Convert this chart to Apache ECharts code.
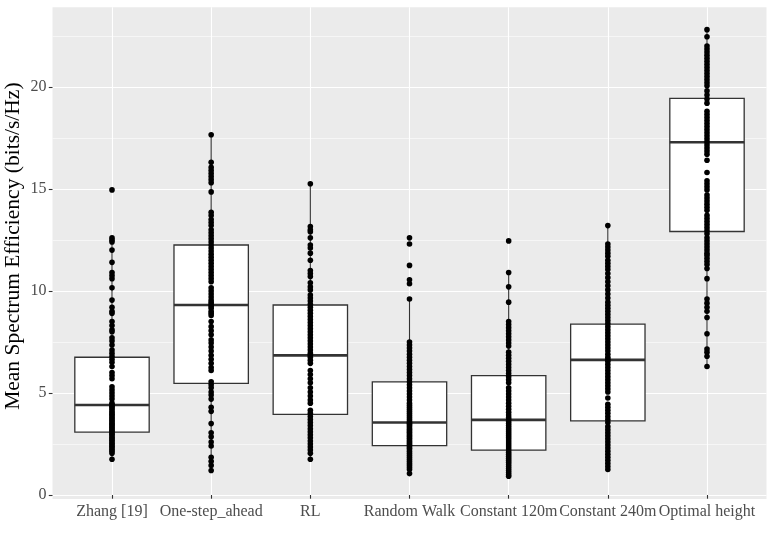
<!DOCTYPE html>
<html>
<head>
<meta charset="utf-8">
<script src="https://cdn.jsdelivr.net/npm/echarts@6/dist/echarts.min.js"></script>
<style>
html,body{margin:0;padding:0;background:#fff;}
#chart{width:774px;height:545px;}
</style>
</head>
<body>
<div id="chart"></div>
<script>
// ---- data ----
var categories = ['Zhang [19]', 'One-step_ahead', 'RL', 'Random Walk', 'Constant 120m', 'Constant 240m', 'Optimal height'];

// box statistics per category
var whiskerLow  = [1.75, 1.2, 1.75, 1.05, 0.92, 1.25, 6.3];
var quartile1   = [3.08, 5.47, 3.95, 2.42, 2.2, 3.63, 12.91];
var medians     = [4.41, 9.31, 6.84, 3.55, 3.68, 6.62, 17.28];
var quartile3   = [6.75, 12.25, 9.31, 5.54, 5.85, 8.37, 19.43];
var whiskerHigh = [12.4, 17.65, 15.25, 9.6, 10.9, 13.2, 22.8];

// individual observations per category
var zhangPts = [14.95, 12.6, 12.5, 12.4, 12.0, 11.4, 10.9, 10.75, 10.6, 10.15, 9.55, 9.2, 9.0, 8.9, 8.5, 8.3, 8.1, 8.0, 7.7, 7.55, 7.35, 7.1, 6.95, 6.8, 6.65, 6.5, 6.3, 6.0, 5.85, 5.7, 5.3, 5.15, 5.0, 4.85, 4.7, 4.5, 4.42, 4.35, 4.28, 4.2, 4.1, 4.02, 3.95, 3.88, 3.8, 3.72, 3.65, 3.58, 3.5, 3.44, 3.38, 3.3, 3.24, 3.16, 3.1, 3.04, 2.98, 2.9, 2.82, 2.75, 2.68, 2.6, 2.52, 2.45, 2.38, 2.3, 2.22, 2.15, 2.05, 1.75];
var oneStepPts = [17.65, 16.3, 16.05, 15.9, 15.75, 15.6, 15.45, 15.3, 14.85, 13.85, 13.7, 13.5, 13.35, 13.2, 13.0, 12.85, 12.7, 12.55, 12.4, 12.25, 12.1, 11.95, 11.8, 11.65, 11.5, 11.35, 11.2, 11.05, 10.9, 10.75, 10.6, 10.45, 10.15, 10.0, 9.85, 9.7, 9.55, 9.45, 9.35, 9.25, 9.15, 9.0, 8.9, 8.8, 8.5, 8.25, 8.05, 7.85, 7.6, 7.45, 7.25, 7.05, 6.85, 6.65, 6.45, 6.25, 6.1, 5.55, 5.4, 5.25, 5.05, 4.9, 4.7, 4.3, 4.1, 3.5, 3.05, 2.85, 2.6, 2.4, 1.85, 1.65, 1.45, 1.2];
var rlPts = [15.25, 13.15, 13.0, 12.9, 12.6, 12.25, 12.1, 11.85, 11.5, 11.0, 10.85, 10.7, 10.4, 10.2, 10.05, 9.8, 9.65, 9.5, 9.35, 9.2, 9.05, 8.9, 8.75, 8.6, 8.45, 8.3, 8.15, 8.0, 7.85, 7.7, 7.55, 7.4, 7.25, 7.1, 6.95, 6.85, 6.75, 6.6, 6.45, 6.1, 5.9, 5.7, 5.5, 5.25, 5.05, 4.85, 4.65, 4.5, 4.15, 4.0, 3.85, 3.7, 3.55, 3.4, 3.25, 3.1, 2.95, 2.8, 2.65, 2.5, 2.35, 2.2, 2.05, 1.75];
var randomWalkPts = [12.6, 12.3, 11.25, 10.55, 10.35, 9.6, 7.5, 7.35, 7.2, 7.05, 6.9, 6.75, 6.6, 6.45, 6.3, 6.15, 6.0, 5.85, 5.7, 5.55, 5.4, 5.25, 5.1, 4.95, 4.8, 4.65, 4.5, 4.4, 4.3, 4.2, 4.1, 4.0, 3.9, 3.8, 3.7, 3.6, 3.52, 3.45, 3.38, 3.3, 3.22, 3.15, 3.08, 3.0, 2.92, 2.85, 2.78, 2.7, 2.62, 2.55, 2.48, 2.4, 2.32, 2.25, 2.15, 2.05, 1.95, 1.85, 1.75, 1.65, 1.55, 1.45, 1.35, 1.25, 1.05];
var const120Pts = [12.45, 10.9, 10.2, 9.45, 8.5, 8.35, 8.2, 8.05, 7.9, 7.75, 7.6, 7.45, 7.3, 7.0, 6.85, 6.7, 6.55, 6.4, 6.25, 6.1, 5.95, 5.8, 5.65, 5.5, 5.25, 5.1, 4.95, 4.8, 4.65, 4.5, 4.35, 4.2, 4.05, 3.92, 3.8, 3.7, 3.6, 3.5, 3.4, 3.3, 3.2, 3.1, 3.0, 2.9, 2.8, 2.7, 2.6, 2.5, 2.4, 2.3, 2.2, 2.1, 2.0, 1.9, 1.8, 1.7, 1.6, 1.5, 1.4, 1.3, 1.2, 1.1, 1.0, 0.92];
var const240Pts = [13.2, 12.3, 12.15, 12.0, 11.85, 11.7, 11.5, 11.35, 11.2, 11.05, 10.85, 10.65, 10.45, 10.25, 10.05, 9.85, 9.65, 9.45, 9.3, 9.15, 9.0, 8.85, 8.7, 8.55, 8.4, 8.25, 8.1, 7.95, 7.8, 7.65, 7.5, 7.35, 7.2, 7.05, 6.9, 6.75, 6.65, 6.55, 6.4, 6.25, 6.1, 5.95, 5.8, 5.65, 5.5, 5.35, 5.2, 5.05, 4.75, 4.45, 4.3, 4.15, 4.0, 3.85, 3.7, 3.55, 3.35, 3.2, 3.05, 2.9, 2.75, 2.6, 2.45, 2.3, 2.15, 2.0, 1.85, 1.7, 1.55, 1.4, 1.25];
var optimalPts = [22.8, 22.45, 22.0, 21.85, 21.7, 21.55, 21.4, 21.25, 21.1, 20.95, 20.8, 20.65, 20.5, 20.35, 20.2, 20.05, 19.8, 19.6, 19.4, 19.2, 18.8, 18.65, 18.5, 18.35, 18.2, 18.05, 17.9, 17.75, 17.6, 17.45, 17.3, 17.15, 17.0, 16.85, 16.7, 16.4, 15.8, 15.4, 15.25, 15.1, 14.95, 14.7, 14.55, 14.4, 14.25, 14.1, 13.95, 13.7, 13.55, 13.4, 13.25, 13.1, 12.95, 12.8, 12.6, 12.45, 12.3, 12.15, 12.0, 11.85, 11.75, 11.6, 11.45, 11.3, 11.1, 10.6, 9.6, 9.4, 9.2, 9.0, 8.7, 7.9, 7.15, 7.0, 6.8, 6.3];

var yTicks = [0, 5, 10, 15, 20];
var yMin = -0.2, yMax = 23.9;

// ---- build series data ----
var allPts = [zhangPts, oneStepPts, rlPts, randomWalkPts, const120Pts, const240Pts, optimalPts];
var xPositions = categories.map(function (c, i) { return i + 1; });
var boxData = categories.map(function (c, i) {
  return [i + 1, whiskerLow[i], quartile1[i], medians[i], quartile3[i], whiskerHigh[i]];
});
var pointData = [];
allPts.forEach(function (arr, i) {
  arr.forEach(function (v) { pointData.push([i + 1, v]); });
});

var FONT = '"Liberation Serif", "Times New Roman", serif';
var BOX_HALF = 0.375;

var chart = echarts.init(document.getElementById('chart'), null, { renderer: 'canvas' });
chart.setOption({
  backgroundColor: '#ffffff',
  animation: false,
  grid: {
    left: 52.5, right: 7.5, top: 7.2, bottom: 45.9,
    show: true, backgroundColor: '#EBEBEB', borderWidth: 0,
    containLabel: false,
    outerBoundsMode: 'none'
  },
  xAxis: {
    type: 'value', min: 0.4, max: 7.6,
    axisLine: { show: false },
    axisTick: { show: true, customValues: xPositions, length: 3.7, lineStyle: { color: '#333333', width: 1.1 } },
    axisLabel: {
      customValues: xPositions, margin: 5,
      color: '#4D4D4D', fontFamily: FONT, fontSize: 16,
      formatter: function (v) { return categories[Math.round(v) - 1] || ''; }
    },
    splitLine: { show: true, lineStyle: { color: '#ffffff', width: 1.1 } },
    minorSplitLine: { show: false }
  },
  yAxis: {
    type: 'value', min: yMin, max: yMax,
    name: 'Mean Spectrum Efficiency (bits/s/Hz)',
    nameLocation: 'middle', nameGap: 28, nameMoveOverlap: false,
    nameTextStyle: { color: '#000000', fontFamily: FONT, fontSize: 21.5, padding: [0, 0, 0, 14] },
    axisLine: { show: false },
    axisTick: { show: true, customValues: yTicks, length: 3.7, lineStyle: { color: '#333333', width: 1.1 } },
    axisLabel: { customValues: yTicks, margin: 6, color: '#4D4D4D', fontFamily: FONT, fontSize: 16 },
    splitLine: { show: true, lineStyle: { color: '#ffffff', width: 1.1 } },
    minorTick: { show: false, splitNumber: 2 },
    minorSplitLine: { show: true, lineStyle: { color: '#ffffff', width: 0.55 } }
  },
  series: [
    {
      type: 'custom',
      z: 2,
      data: boxData,
      encode: { x: 0, y: [1, 2, 3, 4, 5] },
      renderItem: function (params, api) {
        var x = api.value(0);
        var pLo = api.coord([x, api.value(1)]);
        var pQ1 = api.coord([x, api.value(2)]);
        var pMd = api.coord([x, api.value(3)]);
        var pQ3 = api.coord([x, api.value(4)]);
        var pHi = api.coord([x, api.value(5)]);
        var xl = api.coord([x - BOX_HALF, api.value(2)])[0];
        var xr = api.coord([x + BOX_HALF, api.value(2)])[0];
        var stroke = '#333333';
        return {
          type: 'group',
          children: [
            { type: 'line', shape: { x1: pLo[0], y1: pLo[1], x2: pQ1[0], y2: pQ1[1] }, style: { stroke: stroke, lineWidth: 1.1 } },
            { type: 'line', shape: { x1: pQ3[0], y1: pQ3[1], x2: pHi[0], y2: pHi[1] }, style: { stroke: stroke, lineWidth: 1.1 } },
            { type: 'rect', shape: { x: xl, y: pQ3[1], width: xr - xl, height: pQ1[1] - pQ3[1] }, style: { fill: '#ffffff', stroke: stroke, lineWidth: 1.3 } },
            { type: 'line', shape: { x1: xl, y1: pMd[1], x2: xr, y2: pMd[1] }, style: { stroke: stroke, lineWidth: 2.6 } }
          ]
        };
      }
    },
    {
      type: 'scatter',
      z: 3,
      data: pointData,
      symbol: 'circle',
      symbolSize: 5.6,
      itemStyle: { color: '#000000', opacity: 1 },
      emphasis: { disabled: true }
    }
  ]
});
</script>
</body>
</html>
